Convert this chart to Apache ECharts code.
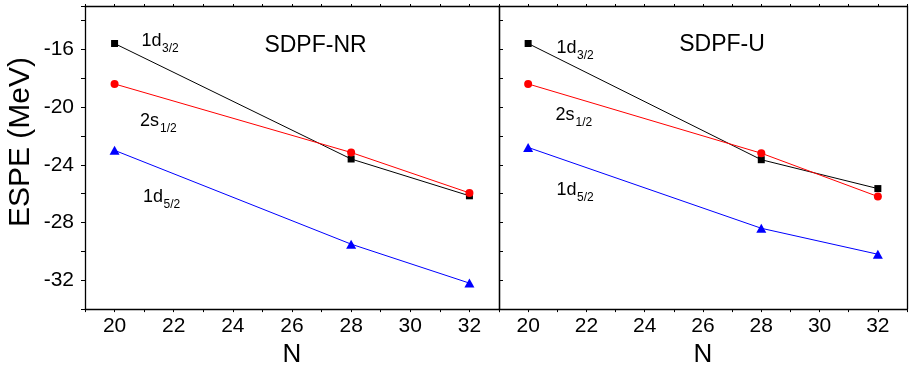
<!DOCTYPE html>
<html>
<head>
<meta charset="utf-8">
<script src="https://cdn.jsdelivr.net/npm/echarts@6/dist/echarts.min.js"></script>
<style>
html,body{margin:0;padding:0;background:#fff;}
#chart{width:910px;height:373px;}
</style>
</head>
<body>
<div id="chart"></div>
<script>
// ---- data ----
var N = [20, 28, 32];
var nrD32 = [-15.6, -23.6, -26.15];
var nrS12 = [-18.4, -23.15, -25.95];
var nrD52 = [-23.0, -29.5, -32.2];
var uD32 = [-15.6, -23.65, -25.65];
var uS12 = [-18.4, -23.2, -26.2];
var uD52 = [-22.8, -28.4, -30.2];
var panelTitles = ['SDPF-NR', 'SDPF-U'];
var orbitalMain = ['1d', '2s', '1d'];
var orbitalSub = ['3/2', '1/2', '5/2'];
var xName = 'N';
var yName = 'ESPE (MeV)';

var FONT = 'Liberation Sans, Arial, Helvetica, sans-serif';
var chart = echarts.init(document.getElementById('chart'), null, {renderer: 'canvas'});

function pair(xs, ys) { return xs.map(function (x, i) { return [x, ys[i]]; }); }

function xAxes(gi) {
  return [{
    type: 'value', gridIndex: gi, position: 'bottom', min: 19, max: 33, interval: 1,
    name: xName, nameLocation: 'middle', nameGap: 32,
    nameTextStyle: {fontFamily: FONT, fontSize: 26, color: '#000'},
    axisLine: {show: true, onZero: false, lineStyle: {color: '#000', width: 1.3}},
    axisTick: {show: true, inside: false, length: 3, lineStyle: {color: '#000', width: 1}},
    axisLabel: {show: true, margin: 7, fontFamily: FONT, fontSize: 21, color: '#000',
      formatter: function (v) { return v % 2 === 0 ? String(v) : ''; }},
    splitLine: {show: false}
  }, {
    type: 'value', gridIndex: gi, position: 'top', min: 19, max: 33, interval: 1,
    axisLine: {show: true, onZero: false, lineStyle: {color: '#000', width: 1.3}},
    axisTick: {show: true, inside: false, length: 2, lineStyle: {color: '#000', width: 1}},
    axisLabel: {show: false}, splitLine: {show: false}
  }];
}

function yAxes(gi) {
  var left = {
    type: 'value', gridIndex: gi, position: 'left', min: -34, max: -13, interval: 2,
    axisLine: {show: true, onZero: false, lineStyle: {color: '#000', width: 1.3}},
    axisTick: {show: true, inside: gi === 1, length: 4, lineStyle: {color: '#000', width: 1}},
    axisLabel: {show: gi === 0, margin: 11, fontFamily: FONT, fontSize: 21, color: '#000',
      formatter: function (v) { return v % 4 === 0 ? String(v) : ''; }},
    splitLine: {show: false}
  };
  var right = {
    type: 'value', gridIndex: gi, position: 'right', min: -34, max: -13, interval: 2,
    axisLine: {show: true, onZero: false, lineStyle: {color: '#000', width: 1.3}},
    axisTick: {show: false}, axisLabel: {show: false}, splitLine: {show: false}
  };
  return [left, right];
}

function mkSeries(gi, ys, color, symbol, size) {
  return {
    type: 'line', xAxisIndex: gi * 2, yAxisIndex: gi * 2,
    data: pair(N, ys), symbol: symbol, symbolSize: size, showSymbol: true,
    lineStyle: {color: color, width: 1}, itemStyle: {color: color},
    animation: false, z: 3
  };
}

var labelPos = [
  [[141.5, 41.5], [140, 121.5], [143, 197]],
  [[556.5, 48.5], [555.5, 115.5], [556.5, 190.5]]
];
var titlePos = [[315.5, 45.3], [722, 45]];
var mainWidths = [20, 19.5, 20];

var graphics = [{
  type: 'text', x: 21, y: 142, rotation: Math.PI / 2, z: 10,
  style: {text: yName, font: '30px ' + FONT, fill: '#000',
    align: 'center', verticalAlign: 'middle', textAlign: 'center', textVerticalAlign: 'middle'}
}];
for (var p = 0; p < 2; p++) {
  graphics.push({
    type: 'text', x: titlePos[p][0], y: titlePos[p][1], z: 10,
    style: {text: panelTitles[p], font: '23px ' + FONT, fill: '#000',
      align: 'center', verticalAlign: 'middle', textAlign: 'center', textVerticalAlign: 'middle'}
  });
  for (var k = 0; k < 3; k++) {
    var lp = labelPos[p][k];
    graphics.push({
      type: 'text', x: lp[0], y: lp[1], z: 10,
      style: {text: orbitalMain[k], font: '18px ' + FONT, fill: '#000',
        align: 'left', verticalAlign: 'middle', textAlign: 'left', textVerticalAlign: 'middle'}
    });
    graphics.push({
      type: 'text', x: lp[0] + mainWidths[k] + 0.5, y: lp[1] + 7.5, z: 10,
      style: {text: orbitalSub[k], font: '12px ' + FONT, fill: '#000',
        align: 'left', verticalAlign: 'middle', textAlign: 'left', textVerticalAlign: 'middle'}
    });
  }
}

var option = {
  backgroundColor: '#fff',
  animation: false,
  grid: [
    {left: 85, top: 6, width: 414, height: 307, containLabel: false},
    {left: 499, top: 6, width: 414, height: 307, containLabel: false}
  ],
  xAxis: xAxes(0).concat(xAxes(1)),
  yAxis: yAxes(0).concat(yAxes(1)),
  series: [
    mkSeries(0, nrD32, '#000000', 'rect', 7),
    mkSeries(0, nrS12, '#ff0000', 'circle', 8),
    mkSeries(0, nrD52, '#0000ff', 'triangle', [10, 9]),
    mkSeries(1, uD32, '#000000', 'rect', 7),
    mkSeries(1, uS12, '#ff0000', 'circle', 8),
    mkSeries(1, uD52, '#0000ff', 'triangle', [10, 9])
  ],
  graphic: graphics
};
chart.setOption(option);
</script>
</body>
</html>
